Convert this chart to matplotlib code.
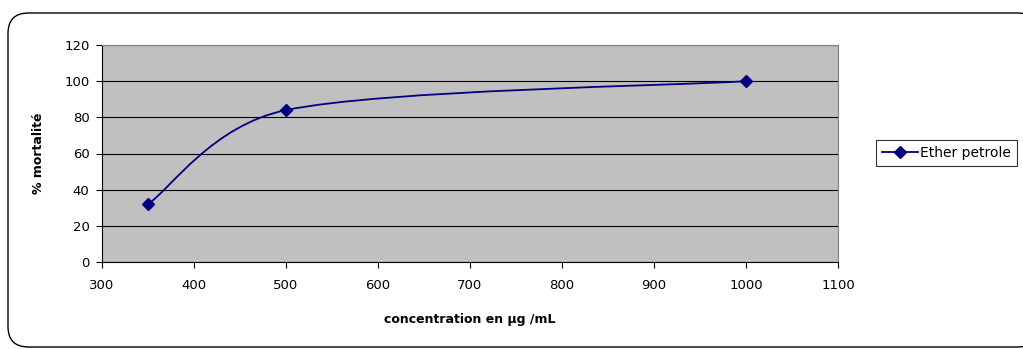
import numpy as np
import matplotlib
matplotlib.use("Agg")
import matplotlib.pyplot as plt
from matplotlib.patches import FancyBboxPatch
from matplotlib.path import Path
from matplotlib.patches import PathPatch
from matplotlib.lines import Line2D

conc = [350, 500, 1000]
mortalite = [32, 84, 100]
series_name = "Ether petrole"
NAVY = "#000080"

plt.rcParams.update({"font.family": "DejaVu Sans", "font.size": 9})

fig = plt.figure(figsize=(10.23, 3.49), dpi=100)
border = FancyBboxPatch((8 / 1023, 2 / 349), 1030 / 1023, 334 / 349,
                        boxstyle="round,pad=0,rounding_size=0.02",
                        transform=fig.transFigure, fc="white", ec="black",
                        lw=1.0, mutation_aspect=1023 / 349, zorder=-1)
fig.patches.append(border)
ax = fig.add_axes([102 / 1023, 1 - 262 / 349, 736 / 1023, 217 / 349])
ax.set_facecolor("#C0C0C0")
ax.set_xlim(300, 1100)
ax.set_ylim(0, 120)
ax.set_xticks(np.arange(300, 1101, 100))
ax.set_yticks(np.arange(0, 121, 20))
ax.yaxis.grid(True, color="black", lw=0.8)
ax.set_axisbelow(True)
for s in ["top", "right"]:
    ax.spines[s].set_color("#808080")
for s in ["left", "bottom"]:
    ax.spines[s].set_color("black")
ax.tick_params(direction="out", length=4, labelsize=9.5)
ax.tick_params(axis="x", pad=8)
ax.tick_params(axis="y", pad=5)
ax.set_xlabel("concentration en µg /mL", fontweight="bold", fontsize=9, labelpad=15)
ax.set_ylabel("% mortalité", fontweight="bold", fontsize=9, labelpad=14)

# smoothed line like the spreadsheet's: Bezier in display space,
# handle length capped so a short segment does not bulge
fig.canvas.draw()
pts = ax.transData.transform(np.column_stack([conc, mortalite]))
n = len(pts)
seg = np.linalg.norm(np.diff(pts, axis=0), axis=1)


def handle(a, b, length):
    h = (b - a) / 6
    cap = 0.45 * length
    hl = np.linalg.norm(h)
    return h * min(1.0, cap / hl) if hl > 0 else h


verts = [pts[0]]
codes = [Path.MOVETO]
for i in range(n - 1):
    p1, p2 = pts[i], pts[i + 1]
    c1 = p1 + handle(pts[max(i - 1, 0)], p2, seg[i])
    c2 = p2 - handle(p1, pts[min(i + 2, n - 1)], seg[i])
    verts += [c1, c2, p2]
    codes += [Path.CURVE4] * 3
verts = ax.transData.inverted().transform(np.array(verts))
ax.add_patch(PathPatch(Path(verts, codes), fc="none", ec=NAVY, lw=1.3, zorder=3))
ax.plot(conc, mortalite, ls="none", marker="D", ms=6, color=NAVY, zorder=4)

leg_handle = Line2D([], [], color=NAVY, lw=1.3, marker="D", ms=6)
fig.legend([leg_handle], [series_name], loc="center left",
           bbox_to_anchor=(876 / 1023, 1 - 153 / 349), frameon=True, fancybox=False,
           edgecolor="black", fontsize=10, handlelength=2.6, borderpad=0.45,
           handletextpad=0.1, borderaxespad=0).get_frame().set_linewidth(0.8)

fig.savefig("out.png", dpi=100)
